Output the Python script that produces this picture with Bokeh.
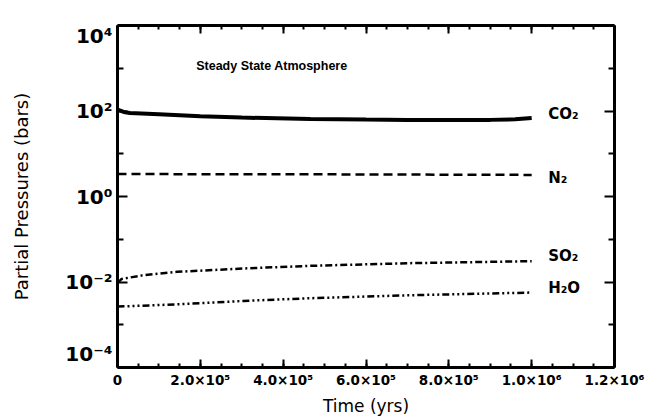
from bokeh.plotting import figure
from bokeh.models import Range1d, FixedTicker, LinearAxis, LogAxis, Label
from bokeh.embed import file_html
from bokeh.resources import INLINE

# ---------------- data ----------------
time_co2 = [0, 1.5e4, 3e4, 1e5, 2e5, 3e5, 4.66e5, 6e5, 7e5, 8e5, 9e5, 9.6e5, 1e6]
co2 = [108, 95, 90, 84, 75, 70, 65, 63, 62, 61.5, 62, 64, 69]
time_n2 = [0, 5e5, 1e6]
n2 = [3.35, 3.3, 3.2]
time_so2 = [0, 1e4, 6e4, 1.44e5, 3.04e5, 4.66e5, 7.07e5, 1e6]
so2 = [0.0095, 0.0118, 0.0143, 0.0173, 0.0207, 0.0239, 0.0276, 0.0307]
time_h2o = [0, 1.44e5, 3.04e5, 4.66e5, 7.07e5, 1e6]
h2o = [0.00266, 0.0030, 0.00361, 0.00418, 0.0049, 0.00566]

species = ["CO₂", "N₂", "SO₂", "H₂O"]

x_ticks = [0.0, 2e5, 4e5, 6e5, 8e5, 1e6, 1.2e6]
x_minor = [i * 5e4 for i in range(25)]
x_tick_labels = ["0", "2.0×10⁵", "4.0×10⁵", "6.0×10⁵", "8.0×10⁵", "1.0×10⁶", "1.2×10⁶"]
y_ticks = [1e-4, 1e-2, 1.0, 1e2, 1e4]
y_minor = [1e-3, 1e-1, 1e1, 1e3]
y_tick_labels = ["10⁻⁴", "10⁻²", "10⁰", "10²", "10⁴"]

title_text = "Steady State Atmosphere"
x_title = "Time (yrs)"
y_title = "Partial Pressures (bars)"

FONT = "DejaVu Sans"
PX_PER_DECADE = 342 / 8.0

p = figure(width=649, height=420, output_backend="svg", toolbar_location=None,
           x_range=Range1d(0, 1.2e6), y_range=Range1d(1e-4, 1e4),
           y_axis_type="log", x_axis_type="linear",
           min_border_left=117, min_border_right=35, min_border_top=25, min_border_bottom=53)
p.xgrid.visible = False
p.ygrid.visible = False
p.outline_line_color = None
p.background_fill_color = "white"
p.border_fill_color = "white"

xt = FixedTicker(ticks=x_ticks, minor_ticks=x_minor)
yt = FixedTicker(ticks=y_ticks, minor_ticks=y_minor)

def frame_axis(ax, ticker, ticks, major_in, minor_in):
    ax.ticker = ticker
    ax.axis_line_width = 3
    ax.axis_line_color = "black"
    ax.major_tick_in = major_in
    ax.major_tick_out = 0
    ax.minor_tick_in = minor_in
    ax.minor_tick_out = 0
    ax.major_tick_line_width = 2
    ax.minor_tick_line_width = 2
    ax.major_label_standoff = 0
    ax.major_label_overrides = {t: "" for t in ticks}

# bottom axis (with labels)
bx = p.xaxis[0]
frame_axis(bx, xt, x_ticks, 8, 4)
bx.major_label_overrides = {t: s for t, s in zip(x_ticks, x_tick_labels)}
bx.major_label_standoff = 4
bx.major_label_text_font = FONT
bx.major_label_text_font_style = "bold"
bx.major_label_text_font_size = "13.5px"
bx.major_label_text_color = "black"
bx.axis_label = x_title
bx.axis_label_text_font = FONT
bx.axis_label_text_font_style = "normal"
bx.axis_label_text_font_size = "17px"
bx.axis_label_text_color = "black"
bx.axis_label_standoff = 5

# left axis (ticks only, nearest the frame)
frame_axis(p.yaxis[0], yt, y_ticks, 10, 6)

# top and right axes (ticks only)
top = LinearAxis()
frame_axis(top, xt, x_ticks, 8, 4)
p.add_layout(top, "above")
right = LogAxis()
frame_axis(right, yt, y_ticks, 10, 6)
p.add_layout(right, "right")

# left label axis: end labels sit inside the axis span, as in the reference
label_shift = [14, 0, 0, 0, -10]   # px (up positive)
label_pos = [v * 10 ** (s / PX_PER_DECADE) for v, s in zip(y_ticks, label_shift)]
lab = LogAxis(ticker=FixedTicker(ticks=label_pos, minor_ticks=[]))
lab.axis_line_color = None
lab.major_tick_line_color = None
lab.minor_tick_line_color = None
lab.major_tick_in = 0
lab.major_tick_out = 0
lab.minor_tick_in = 0
lab.minor_tick_out = 0
lab.major_label_overrides = {t: s for t, s in zip(label_pos, y_tick_labels)}
lab.major_label_standoff = 5
lab.major_label_text_font = FONT
lab.major_label_text_font_style = "bold"
lab.major_label_text_font_size = "20px"
lab.major_label_text_color = "black"
lab.axis_label = y_title
lab.axis_label_text_font = FONT
lab.axis_label_text_font_style = "normal"
lab.axis_label_text_font_size = "18px"
lab.axis_label_text_color = "black"
lab.axis_label_standoff = 30
p.add_layout(lab, "left")

# ---------------- curves ----------------
p.line(time_co2, co2, line_color="black", line_width=4)
p.line(time_n2, n2, line_color="black", line_width=2.5, line_dash="9 5")
p.line(time_so2, so2, line_color="black", line_width=2.5, line_dash="7 3 2 3")
p.line(time_h2o, h2o, line_color="black", line_width=2.5, line_dash="7 3 2 3 2 3 2 3")

# curve labels
ends = [co2[-1], n2[-1], so2[-1], h2o[-1]]
label_dy = [4, -3, 5, 5]
for name, yv, dy in zip(species, ends, label_dy):
    p.add_layout(Label(x=1.04e6, y=yv, y_offset=dy, text=name, text_font=FONT,
                       text_font_style="bold", text_font_size="15px",
                       text_align="left", text_baseline="middle", text_color="black"))

# title inside plot
p.add_layout(Label(x=1.9e5, y=10 ** 3.06, text=title_text, text_font="Liberation Sans",
                   text_font_style="bold", text_font_size="12.5px",
                   text_align="left", text_baseline="middle", text_color="black"))

open("out.html", "w").write(file_html(p, INLINE))
